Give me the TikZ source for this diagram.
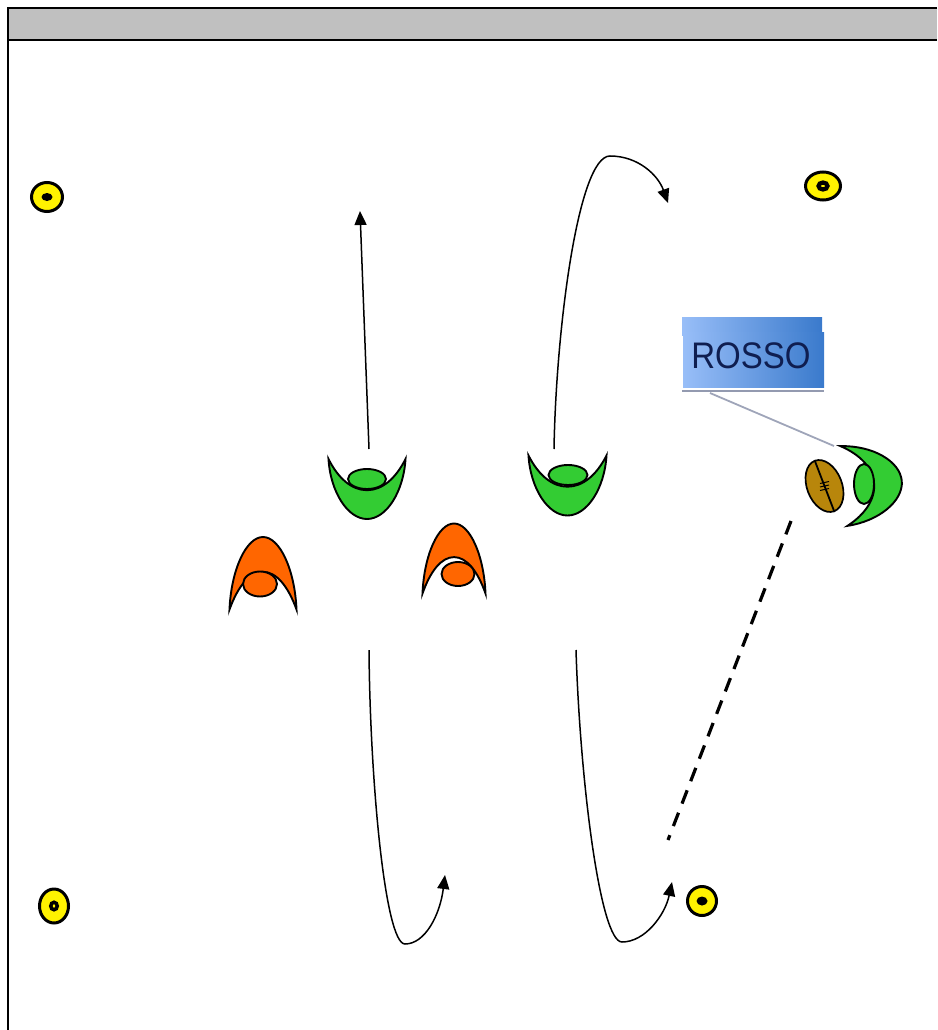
\documentclass[tikz,border=0pt]{standalone}
\usepackage{fontspec}
\setmainfont{Liberation Sans}
\usepackage{tikz}
\usetikzlibrary{arrows.meta,shapes.geometric,positioning}
\definecolor{rgreen}{RGB}{51,204,51}
\definecolor{rorange}{RGB}{255,102,0}
\definecolor{rbrown}{RGB}{184,134,11}
\definecolor{rgrey}{RGB}{192,192,192}
\definecolor{rblueL}{RGB}{152,190,248}
\definecolor{rblueR}{RGB}{58,122,204}
\definecolor{rnavy}{RGB}{15,30,80}
\tikzstyle{arrow} = [line width=1.5pt,-{Triangle[length=14pt,width=12pt]},color=black]
\tikzstyle{cone} = [ellipse, draw=black, fill=yellow, line width=3pt, inner sep=0pt]
\tikzstyle{conedot} = [ellipse, fill=black, minimum width=11pt, minimum height=8pt, inner sep=0pt]
\tikzstyle{conering} = [ellipse, draw=black, fill=yellow, line width=4.2pt, minimum width=9pt, minimum height=7pt, inner sep=0pt]
\tikzstyle{head} = [ellipse, draw=black, line width=1.9pt, inner sep=0pt]
\tikzstyle{callout} = [line width=1.8pt, color=rnavy!40]
\tikzset{
  pics/hood/.style={code={
    \draw[line width=1.9pt, fill=#1, miter limit=20, x=1pt, y=-1pt]
      (-1,0) .. controls (-.95,.55) and (-.5,1) .. (0,1)
      .. controls (.5,1) and (.95,.55) .. (1,0)
      .. controls (.75,.32) and (.4,.52) .. (0,.52)
      .. controls (-.4,.52) and (-.75,.32) .. (-1,0) -- cycle;
  }}
}
\begin{document}
\begin{tikzpicture}[x=1pt, y=-1pt]
\useasboundingbox (0,0) rectangle (937,1030);
% Frame
\draw[line width=2pt, fill=rgrey] (937,8) -- (8,8) -- (8,40) -- (937,40);
\draw[line width=2pt] (8,40) -- (8,1030);
% Cones
\node[cone, minimum width=31pt, minimum height=29pt] (cone1) at (47,197) {};
\node[conedot] (dot1) at (cone1.center) {};
\node[cone, minimum width=35pt, minimum height=28pt] (cone2) at (823,186) {};
\node[conering] (dot2) at (cone2.center) {};
\node[cone, minimum width=29pt, minimum height=34pt] (cone3) at (54,906) {};
\node[conering, minimum width=6.5pt, minimum height=7.5pt, line width=3.5pt] (dot3) at (cone3.center) {};
\node[cone, minimum width=29pt, minimum height=29pt] (cone4) at (702,901) {};
\node[conedot, minimum height=9pt] (dot4) at (cone4.center) {};
% Players
\pic[xscale=38.5, yscale=60] at (367,459) {hood=rgreen};
\node[head, fill=rgreen, minimum width=38pt, minimum height=20pt] (green1) at (367,479) {};
\pic[xscale=39, yscale=60] at (567.5,455.5) {hood=rgreen};
\node[head, fill=rgreen, minimum width=39pt, minimum height=20pt] (green2) at (568,475) {};
\pic[xscale=33.5, yscale=-72.5] at (263,609.5) {hood=rorange};
\node[head, fill=rorange, minimum width=34pt, minimum height=25pt] (orange1) at (260,584) {};
\pic[xscale=31.5, yscale=-70] at (454,593.5) {hood=rorange};
\node[head, fill=rorange, minimum width=33pt, minimum height=24pt] (orange2) at (458,574) {};
\pic[rotate=95, xscale=40, yscale=58] at (844,486) {hood=rgreen};
\node[head, fill=rgreen, minimum width=20pt, minimum height=40pt] (green3) at (864,484) {};
% Ball
\node[ellipse, draw=black, fill=rbrown, line width=1.7pt, minimum width=35pt, minimum height=54pt, rotate=21, inner sep=0pt] (ball) at (824.5,486) {};
\draw[line width=1.8pt] (ball.north) -- (ball.south);
\foreach \dy in {-3.5,0,3.5}
  \draw[line width=1pt] ([shift={(-4.5,\dy+1)}]ball.center) -- ([shift={(4.5,\dy-1)}]ball.center);
% Label
\fill[left color=rblueL, right color=rblueR] (682,317) rectangle (822,335);
\node[left color=rblueL, right color=rblueR, minimum width=141pt, minimum height=55pt, inner sep=0pt, text=rnavy, font=\fontsize{33}{33}\selectfont] (rosso) at (753.5,360) {\raisebox{9pt}{\hspace{-5pt}\scalebox{1}[1.12]{ROSSO}}};
\draw[line width=2pt, color=rnavy!45] (682,391) -- (824,391);
\coordinate (calloutA) at (710,393);
\coordinate (calloutB) at (834,446);
\draw[callout] (calloutA) -- (calloutB);
% Runs
\coordinate (run1a) at (369,449);
\coordinate (run1b) at (360,211);
\draw[arrow] (run1a) -- (run1b);
\coordinate (run2a) at (554,449);
\coordinate (run2b) at (668,203);
\draw[arrow] (run2a) .. controls (556,330) and (578,156) .. (610,156) .. controls (638,156) and (658,175) .. (run2b);
\coordinate (run3a) at (369,650);
\coordinate (run3b) at (445,875);
\draw[arrow] (run3a) .. controls (370,780) and (385,944) .. (405,944) .. controls (425,944) and (440,915) .. (run3b);
\coordinate (run4a) at (576,650);
\coordinate (run4b) at (672,882);
\draw[arrow] (run4a) .. controls (580,780) and (600,942) .. (622,942) .. controls (645,942) and (665,915) .. (run4b);
% Pass
\coordinate (passa) at (791,521);
\coordinate (passb) at (668,840);
\draw[line width=3.2pt, dash pattern=on 14.3pt off 9.75pt] (passa) -- (passb);
\end{tikzpicture}
\end{document}
